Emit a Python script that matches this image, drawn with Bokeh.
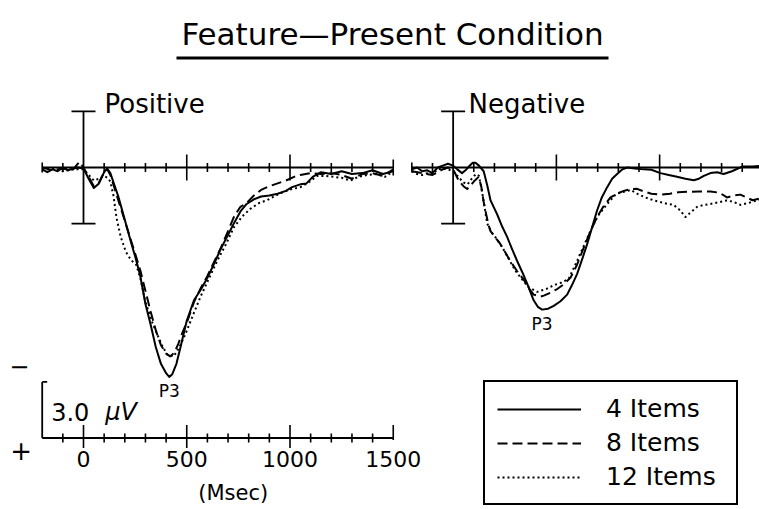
from bokeh.plotting import figure
from bokeh.models import Range1d, Label, Legend, LegendItem, BoxAnnotation
from bokeh.core.properties import value
from bokeh.embed import file_html
from bokeh.resources import INLINE

# ---------------- data (time in ms, amplitude in microvolts, positive plotted down) -------------
POS_T4 = [-200, -175, -150, -125, -100, -75, -50, -25, 0, 25, 50, 75, 100, 115, 130, 150, 170, 190, 210,
          230, 250, 275, 300, 325, 350, 375, 400, 415, 430, 450, 470, 500, 535, 570, 600, 630, 665, 700,
          730, 760, 790, 825, 860, 900, 940, 980, 1010, 1050, 1080, 1110, 1150, 1200, 1250, 1300, 1350,
          1400, 1450, 1500]
POS_V4 = [0.1, 0.25, 0.1, 0.2, 0.0, 0.15, 0.05, 0.0, 0.05, 0.6, 1.1, 0.85, 0.25, 0.05, 0.3, 0.95, 1.6, 2.4,
          3.2, 4.0, 4.75, 5.8, 7.3, 8.4, 9.6, 10.5, 11.0, 11.2, 11.05, 10.5, 9.6, 8.2, 7.1, 6.5, 5.9, 5.2,
          4.35, 3.6, 2.95, 2.35, 1.95, 1.7, 1.55, 1.5, 1.4, 1.25, 1.05, 0.9, 0.85, 0.5, 0.25, 0.35, 0.2,
          0.35, 0.3, 0.15, 0.35, 0.2]

POS_T8 = [-200, -150, -100, -50, -20, 0, 25, 50, 75, 100, 115, 130, 150, 170, 190, 210, 230, 250, 275, 300,
          325, 350, 375, 400, 420, 440, 460, 480, 500, 535, 570, 600, 630, 665, 700, 730, 760, 790, 825,
          860, 900, 940, 980, 1020, 1050, 1100, 1150, 1200, 1250, 1300, 1350, 1400, 1450, 1500]
POS_V8 = [0.0, 0.15, 0.05, 0.1, -0.3, 0.0, 0.5, 1.0, 0.8, 0.25, 0.1, 0.4, 1.1, 1.8, 2.5, 3.2, 3.9, 4.6, 5.5,
          6.6, 7.7, 8.7, 9.5, 9.95, 10.1, 9.9, 9.4, 8.8, 8.3, 7.2, 6.4, 5.8, 5.1, 4.3, 3.4, 2.6, 2.1, 1.9,
          1.5, 1.2, 1.0, 0.85, 0.7, 0.5, 0.4, 0.3, 0.35, 0.3, 0.4, 0.6, 0.35, 0.3, 0.45, 0.1]

POS_T12 = [-200, -150, -100, -50, 0, 25, 50, 75, 100, 115, 130, 145, 160, 180, 205, 230, 255, 275, 300, 330,
           356, 380, 405, 437, 465, 494, 530, 567, 605, 647, 690, 728, 770, 809, 850, 889, 930, 970, 1010,
           1051, 1090, 1131, 1170, 1212, 1250, 1293, 1330, 1374, 1420, 1460, 1500]
POS_V12 = [0.15, 0.05, 0.2, 0.1, 0.1, 0.4, 0.7, 0.6, 0.45, 0.55, 0.75, 1.5, 2.7, 3.7, 4.5, 4.95, 5.2, 5.9,
           7.2, 8.2, 8.9, 9.5, 10.0, 10.1, 9.6, 8.9, 7.9, 6.9, 6.0, 5.0, 4.1, 3.2, 2.6, 2.2, 1.9, 1.75, 1.5,
           1.3, 1.15, 1.05, 0.8, 0.45, 0.45, 0.5, 0.55, 0.7, 0.5, 0.4, 0.35, 0.5, 0.2]

NEG_T4 = [-200, -175, -150, -125, -100, -75, -50, -25, 0, 20, 43, 60, 76, 95, 108, 125, 148, 165, 181, 200,
          213, 235, 261, 285, 310, 335, 358, 390, 410, 431, 460, 487, 520, 552, 575, 600, 625, 649, 673,
          697, 720, 746, 770, 794, 820, 843, 880, 923, 960, 1004, 1044, 1084, 1125, 1165, 1190, 1214, 1246,
          1278, 1310, 1350, 1400, 1450, 1500]
NEG_V4 = [0.1, 0.0, 0.2, 0.15, 0.3, 0.0, -0.1, -0.2, -0.1, 0.1, 0.3, 0.15, -0.05, -0.25, -0.25, -0.1, 0.2,
          0.95, 1.75, 2.2, 2.5, 3.1, 3.7, 4.35, 5.0, 5.6, 6.2, 7.1, 7.45, 7.6, 7.55, 7.4, 7.15, 6.8, 6.3,
          5.7, 4.9, 4.1, 3.2, 2.3, 1.6, 1.05, 0.6, 0.35, 0.1, 0.0, 0.05, 0.1, 0.12, 0.3, 0.4, 0.5, 0.6,
          0.68, 0.6, 0.45, 0.3, 0.25, 0.35, 0.2, -0.05, -0.05, -0.1]

NEG_T8 = [-200, -150, -100, -50, -25, 0, 27, 50, 68, 85, 100, 124, 136, 148, 160, 172, 181, 205, 229, 253,
          277, 310, 342, 366, 390, 423, 439, 470, 504, 535, 568, 600, 632, 665, 697, 730, 762, 794, 826,
          860, 891, 923, 960, 1004, 1050, 1090, 1133, 1190, 1246, 1290, 1326, 1360, 1391, 1420, 1450, 1487,
          1500]
NEG_V8 = [0.2, 0.3, 0.4, 0.1, 0.0, 0.1, 0.7, 1.0, 1.15, 0.95, 0.75, 0.5, 1.0, 1.85, 2.5, 3.1, 3.4, 3.75,
          4.1, 4.55, 5.0, 5.55, 6.0, 6.45, 6.8, 6.9, 6.85, 6.7, 6.5, 6.25, 5.9, 5.2, 4.3, 3.4, 2.65, 2.05,
          1.6, 1.4, 1.25, 1.15, 1.14, 1.28, 1.4, 1.45, 1.4, 1.32, 1.3, 1.28, 1.28, 1.35, 1.6, 1.5, 1.45,
          1.6, 1.75, 1.65, 1.6]

NEG_T12 = [-200, -175, -150, -125, -100, -75, -50, -25, 0, 25, 50, 70, 90, 110, 125, 140, 155, 165, 185, 210,
           240, 270, 300, 335, 366, 407, 450, 487, 525, 560, 600, 632, 665, 700, 746, 790, 826, 860, 891,
           930, 970, 1004, 1040, 1068, 1100, 1125, 1150, 1182, 1215, 1246, 1290, 1326, 1360, 1391, 1430,
           1471, 1500]
NEG_V12 = [0.2, 0.35, 0.4, 0.3, 0.35, 0.1, 0.05, 0.1, 0.2, 0.5, 0.8, 0.9, 0.6, 0.35, 0.45, 1.3, 2.3, 3.0,
           3.45, 3.8, 4.3, 4.9, 5.5, 6.0, 6.4, 6.65, 6.5, 6.3, 6.15, 5.95, 5.0, 4.2, 3.4, 2.6, 1.95, 1.4,
           1.3, 1.2, 1.4, 1.6, 1.75, 1.85, 1.95, 2.0, 2.3, 2.65, 2.4, 2.1, 2.0, 1.95, 1.85, 1.76, 1.85,
           2.0, 1.9, 1.76, 1.75]

SERIES_LABELS = ["4 Items", "8 Items", "12 Items"]
PANEL_LABELS = ["Positive", "Negative"]
TICK_TIMES = list(range(-200, 1501, 100))
MAJOR_TIMES = [500, 1000]
SCALE_LABEL_TIMES = [0, 500, 1000, 1500]
CAL_UV = 3.0
TITLE = "Feature\u2014Present Condition"

# ---------------- layout constants ----------------
W, H = 759, 509
PX_MS = 0.2065
PX_UV = 18.7
X0 = 83.0
Y0 = 167.0
NEG_OFFSET = 1790.0
SCALE_LEVEL = (437.5 - Y0) / PX_UV
FONT = "DejaVu Sans"

p = figure(width=W, height=H, output_backend="svg", toolbar_location=None,
           x_range=Range1d(-X0 / PX_MS, (W - X0) / PX_MS),
           y_range=Range1d((H - Y0) / PX_UV, -Y0 / PX_UV),
           x_axis_location=None, y_axis_location=None, min_border=0)
p.grid.visible = False
p.outline_line_color = None
p.background_fill_color = "white"
p.border_fill_color = "white"

uv = lambda px: px / PX_UV   # pixel length -> microvolt length
ms = lambda px: px / PX_MS   # pixel length -> ms length

# ---------------- panel baselines, ticks and calibration bars ----------------
for off in (0.0, NEG_OFFSET):
    p.segment(x0=[-200 + off], y0=[0], x1=[1500 + off], y1=[0], line_color="black", line_width=2)
    xs, y0s, y1s = [], [], []
    for t in TICK_TIMES:
        if t == 0:
            continue
        if t in MAJOR_TIMES:
            h = uv(13)
        elif t == 1500:
            h = uv(8)
        elif t == -200:
            h = uv(5)
        else:
            h = uv(4.5)
        xs.append(t + off); y0s.append(-h); y1s.append(h)
    p.segment(x0=xs, y0=y0s, x1=xs, y1=y1s, line_color="black", line_width=1.6)
    # calibration bar at stimulus onset (+/- 3 uV)
    p.segment(x0=[off], y0=[-CAL_UV], x1=[off], y1=[CAL_UV], line_color="black", line_width=1.8)
    p.segment(x0=[off - ms(12), off - ms(12)], y0=[-CAL_UV, CAL_UV],
              x1=[off + ms(12), off + ms(12)], y1=[-CAL_UV, CAL_UV], line_color="black", line_width=1.8)

# ---------------- waveforms ----------------
styles = [dict(line_dash="solid", line_width=2.0),
          dict(line_dash="10 5", line_width=2.0),
          dict(line_dash="2 3", line_width=2.0)]
pos = [(POS_T4, POS_V4), (POS_T8, POS_V8), (POS_T12, POS_V12)]
neg = [(NEG_T4, NEG_V4), (NEG_T8, NEG_V8), (NEG_T12, NEG_V12)]
legend_renderers = []
for (t, v), st in zip(pos, styles):
    r = p.line(x=t, y=v, line_color="black", line_join="round", **st)
    legend_renderers.append(r)
for (t, v), st in zip(neg, styles):
    p.line(x=[ti + NEG_OFFSET for ti in t], y=v, line_color="black", line_join="round", **st)

# P3 labels under the 4-item peaks
for (t, v), off in ((pos[0]), 0.0), ((neg[0]), NEG_OFFSET):
    i = max(range(len(v)), key=lambda k: v[k])
    p.text(x=[t[i] + off], y=[v[i] + uv(4)], text=["P3"], text_align="center", text_baseline="top",
           text_font=value(FONT), text_font_size="17px", text_color="black")

# ---------------- scale bar (time axis + 3 uV bracket) ----------------
p.segment(x0=[-200], y0=[SCALE_LEVEL], x1=[1500], y1=[SCALE_LEVEL], line_color="black", line_width=2)
xs, y0s, y1s = [], [], []
for t in TICK_TIMES:
    if t == -200:
        continue
    if t in SCALE_LABEL_TIMES:
        up, down = uv(13), (uv(2) if t == 1500 else uv(10))
    else:
        up, down = uv(4.5), uv(4.5)
    xs.append(t); y0s.append(SCALE_LEVEL - up); y1s.append(SCALE_LEVEL + down)
p.segment(x0=xs, y0=y0s, x1=xs, y1=y1s, line_color="black", line_width=1.6)
p.segment(x0=[-200], y0=[SCALE_LEVEL], x1=[-200], y1=[SCALE_LEVEL - CAL_UV], line_color="black", line_width=1.8)
p.segment(x0=[-200], y0=[SCALE_LEVEL - CAL_UV], x1=[-200 + ms(5)], y1=[SCALE_LEVEL - CAL_UV],
          line_color="black", line_width=1.8)
p.text(x=SCALE_LABEL_TIMES, y=[SCALE_LEVEL + uv(21)] * len(SCALE_LABEL_TIMES),
       text=[str(t) for t in SCALE_LABEL_TIMES], text_align="center", text_baseline="middle",
       text_font=value(FONT), text_font_size="22px", text_color="black")
p.text(x=[725], y=[SCALE_LEVEL + uv(55)], text=["(Msec)"], text_align="center", text_baseline="middle",
       text_font=value(FONT), text_font_size="21px", text_color="black")
p.text(x=[-200 + ms(9)], y=[SCALE_LEVEL - CAL_UV / 2 + uv(2)], text=["3.0"], text_align="left",
       text_baseline="middle", text_font=value(FONT), text_font_size="24px", text_color="black")
p.text(x=[-200 + ms(63)], y=[SCALE_LEVEL - CAL_UV / 2 + uv(2)], text=["\u03bcV"], text_align="left",
       text_baseline="middle", text_font=value(FONT), text_font_size="24px", text_font_style="italic",
       text_color="black")
p.text(x=[-200 - ms(23)], y=[SCALE_LEVEL - CAL_UV - uv(16)], text=["\u2212"], text_align="center",
       text_baseline="middle", text_font=value(FONT), text_font_size="24px", text_color="black")
p.text(x=[-200 - ms(21)], y=[SCALE_LEVEL + uv(12)], text=["+"], text_align="center",
       text_baseline="middle", text_font=value(FONT), text_font_size="26px", text_color="black")

# ---------------- titles ----------------
p.add_layout(Label(x=392, y=H - 33, x_units="screen", y_units="screen", text=TITLE, text_align="center",
                   text_baseline="middle", text_font=FONT, text_font_size="31px", text_color="black"))
p.add_layout(BoxAnnotation(left=176, right=608, top=H - 56, bottom=H - 59, left_units="screen",
                           right_units="screen", top_units="screen", bottom_units="screen",
                           fill_color="black", fill_alpha=1.0, line_color=None))
for lbl, xpx in zip(PANEL_LABELS, (104, 468)):
    p.add_layout(Label(x=xpx, y=H - 103, x_units="screen", y_units="screen", text=lbl, text_align="left",
                       text_baseline="alphabetic", text_font=FONT, text_font_size="26px", text_color="black"))

# ---------------- legend ----------------
legend = Legend(items=[LegendItem(label=l, renderers=[r]) for l, r in zip(SERIES_LABELS, legend_renderers)],
                location=(483, 4), orientation="vertical", margin=0, padding=12, spacing=5,
                glyph_width=84, glyph_height=28, label_height=28, label_width=118, label_standoff=25,
                label_text_font=FONT, label_text_font_size="25px", label_text_color="black",
                border_line_color="black", border_line_width=2, border_line_alpha=1.0,
                background_fill_color="white", background_fill_alpha=1.0)
p.add_layout(legend)

open("out.html", "w").write(file_html(p, INLINE))
